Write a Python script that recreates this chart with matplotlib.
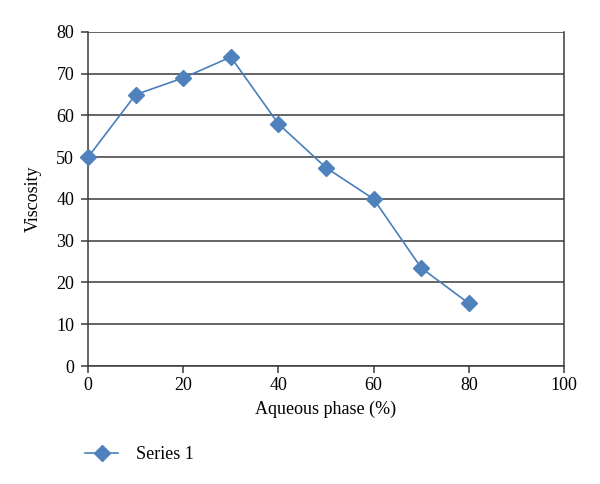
import matplotlib
matplotlib.use('Agg')
import matplotlib.pyplot as plt

aqueous = [0, 10, 20, 30, 40, 50, 60, 70, 80]
viscosity = [50, 65, 69, 74, 58, 47.5, 40, 23.5, 15]
xticks = [0, 20, 40, 60, 80, 100]
yticks = [0, 10, 20, 30, 40, 50, 60, 70, 80]

plt.rcParams['font.family'] = ['Liberation Serif', 'DejaVu Serif']

fig = plt.figure(figsize=(6, 4.84), dpi=100)
ax = fig.add_axes([0.1467, 0.2438, 0.7933, 0.6901])

ax.plot(aqueous, viscosity, color='#4a7ebb', lw=1.2, marker='D', ms=8,
        mfc='#4f81bd', mec='#4f81bd', label='Series 1', clip_on=False, zorder=3)

ax.set_xlim(0, 100)
ax.set_ylim(0, 80)
ax.set_xticks(xticks)
ax.set_yticks(yticks)
ax.grid(axis='y', color='#3a3a3a', lw=1.1)
ax.set_axisbelow(True)
for s in ax.spines.values():
    s.set_color('#3a3a3a')
    s.set_linewidth(1.1)
ax.spines['top'].set_visible(False)
ax.tick_params(axis='x', direction='out', length=5, width=1.1, color='#3a3a3a',
               labelsize=13, pad=3)
ax.tick_params(axis='y', direction='out', length=5, width=1.1, color='#3a3a3a',
               labelsize=13, pad=5)

ax.set_xlabel('Aqueous phase (%)', fontsize=13, labelpad=5)
ax.set_ylabel('Viscosity', fontsize=13, labelpad=10)

fig.legend(loc='lower left', bbox_to_anchor=(0.115, 0.01), frameon=False,
           fontsize=13, handlelength=1.8, handletextpad=1.0)

fig.savefig('out.png', dpi=100)
